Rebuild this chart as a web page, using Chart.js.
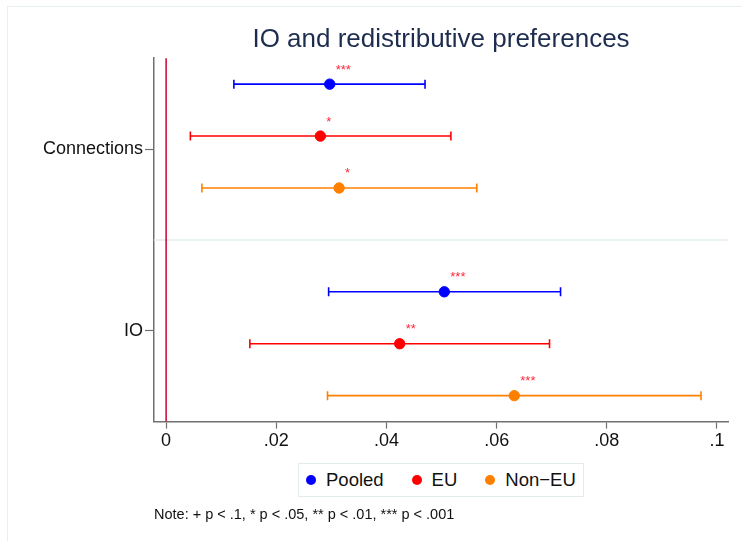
<!DOCTYPE html>
<html>
<head>
<meta charset="utf-8">
<title>IO and redistributive preferences</title>
<script src="https://cdn.jsdelivr.net/npm/chart.js@4.4.0/dist/chart.umd.min.js"></script>
<style>
    html, body { margin: 0; padding: 0; background: #fff; }
    #frame {
        position: absolute; left: 7px; top: 6px; width: 760px; height: 560px;
        border-top: 1px solid #e8eff0; border-left: 1px solid #e8eff0;
    }
    #wrap { position: absolute; left: 0; top: 0; width: 742px; height: 541px; }
    #legend {
        position: absolute; top: 463px; height: 34px; box-sizing: border-box;
        display: flex; align-items: center; padding: 0 7px;
        border: 1px solid #e3ecec; background: #fff;
        font-family: 'Liberation Sans', Arial, sans-serif; font-size: 18.5px; color: #111;
    }
    #legend .item { display: flex; align-items: center; margin-right: 28px; }
    #legend .item:last-child { margin-right: 0; }
    #legend .dot { width: 10px; height: 10px; border-radius: 50%; margin-right: 10px; }
</style>
</head>
<body>
<div id="frame"></div>
<div id="wrap"><canvas id="coefChart"></canvas></div>
<div id="legend"></div>
<script>
// Groups on the y axis (top to bottom) and the three samples
const groups = ['Connections', 'IO'];
const seriesNames = ['Pooled', 'EU', 'Non\u2212EU'];
const seriesColors = ['#0000ff', '#ff0000', '#ff8000'];

// Coefficients and 95% CI bounds, one entry per group
const pooledCoef = [0.0297, 0.0505];
const pooledLow  = [0.0123, 0.0295];
const pooledHigh = [0.0470, 0.0716];
const pooledStars = ['***', '***'];

const euCoef = [0.0280, 0.0424];
const euLow  = [0.0044, 0.0152];
const euHigh = [0.0517, 0.0696];
const euStars = ['*', '**'];

const nonEuCoef = [0.0314, 0.0632];
const nonEuLow  = [0.0065, 0.0293];
const nonEuHigh = [0.0564, 0.0971];
const nonEuStars = ['*', '***'];

// Axis ticks
const xTicks = [0, 0.02, 0.04, 0.06, 0.08, 0.1];
const yTickLabels = groups;

const FONT = "'Liberation Sans', Arial, sans-serif";

// Each group takes 3 rows plus a gap row; series i sits on row i of its group
function buildSeries(si, coef, low, high, stars) {
    return {
        label: seriesNames[si],
        data: coef.map((c, gi) => ({
            x: c, y: gi * 4 + si + 0.5, lo: low[gi], hi: high[gi], star: stars[gi]
        })),
        backgroundColor: seriesColors[si],
        borderColor: seriesColors[si],
        pointRadius: 5.2,
        pointHoverRadius: 5.2,
        pointStyle: 'circle'
    };
}

// Zero line, group separator, CI whiskers and significance stars
const coefPlot = {
    id: 'coefPlot',
    beforeDatasetsDraw(chart) {
        const { ctx, chartArea: a, scales: { x, y } } = chart;
        ctx.save();

        const ySep = y.getPixelForValue(3.5);
        ctx.strokeStyle = '#e3ecec';
        ctx.lineWidth = 1.5;
        ctx.beginPath();
        ctx.moveTo(a.left, ySep);
        ctx.lineTo(a.right, ySep);
        ctx.stroke();

        const x0 = x.getPixelForValue(0);
        ctx.strokeStyle = '#d0103a';
        ctx.lineWidth = 1.6;
        ctx.beginPath();
        ctx.moveTo(x0, a.top);
        ctx.lineTo(x0, a.bottom);
        ctx.stroke();

        chart.data.datasets.forEach(ds => {
            ctx.strokeStyle = ds.borderColor;
            ctx.lineWidth = 1.6;
            ds.data.forEach(p => {
                const py = y.getPixelForValue(p.y);
                const l = x.getPixelForValue(p.lo);
                const r = x.getPixelForValue(p.hi);
                ctx.beginPath();
                ctx.moveTo(l, py); ctx.lineTo(r, py);
                ctx.moveTo(l, py - 4.5); ctx.lineTo(l, py + 4.5);
                ctx.moveTo(r, py - 4.5); ctx.lineTo(r, py + 4.5);
                ctx.stroke();
            });
        });
        ctx.restore();
    },
    afterDatasetsDraw(chart) {
        const { ctx, scales: { x, y } } = chart;
        ctx.save();
        ctx.fillStyle = '#ff2a3a';
        ctx.font = '13px ' + FONT;
        ctx.textAlign = 'left';
        ctx.textBaseline = 'alphabetic';
        chart.data.datasets.forEach(ds => {
            ds.data.forEach(p => {
                ctx.fillText(p.star, x.getPixelForValue(p.x) + 6, y.getPixelForValue(p.y) - 10.5);
            });
        });
        ctx.restore();
    }
};

const chart = new Chart(document.getElementById('coefChart'), {
    type: 'scatter',
    data: {
        datasets: [
            buildSeries(0, pooledCoef, pooledLow, pooledHigh, pooledStars),
            buildSeries(1, euCoef, euLow, euHigh, euStars),
            buildSeries(2, nonEuCoef, nonEuLow, nonEuHigh, nonEuStars)
        ]
    },
    options: {
        responsive: true,
        maintainAspectRatio: false,
        animation: false,
        layout: { padding: { left: 0, right: 14, top: 0, bottom: 0 } },
        scales: {
            x: {
                type: 'linear',
                min: -0.0022,
                max: 0.102,
                afterBuildTicks: s => { s.ticks = xTicks.map(v => ({ value: v })); },
                afterFit: s => { s.height = 34; },
                ticks: {
                    callback: v => (v === 0 ? '0' : String(v).replace(/^0/, '')),
                    font: { family: FONT, size: 18 },
                    color: '#111',
                    padding: 2,
                    maxRotation: 0
                },
                grid: { drawOnChartArea: false, drawTicks: true, tickLength: 7, color: '#707070', tickWidth: 1.2 },
                border: { color: '#707070', width: 1.5 }
            },
            y: {
                type: 'linear',
                reverse: true,
                min: 0,
                max: 7,
                afterBuildTicks: s => { s.ticks = [{ value: 1.75 }, { value: 5.25 }]; },
                afterFit: s => { s.width = 154; },
                ticks: {
                    callback: (v, i) => yTickLabels[i],
                    font: { family: FONT, size: 18 },
                    color: '#111',
                    padding: 2
                },
                grid: { drawOnChartArea: false, drawTicks: true, tickLength: 9, color: '#707070', tickWidth: 1.2 },
                border: { color: '#707070', width: 1.5 }
            }
        },
        plugins: {
            title: {
                display: true,
                text: 'IO and redistributive preferences',
                fullSize: false,
                color: '#1e2d4f',
                font: { family: FONT, size: 26, weight: 'normal' },
                padding: { top: 24, bottom: 3 }
            },
            legend: { display: false },
            subtitle: {
                display: true,
                position: 'bottom',
                align: 'start',
                fullSize: false,
                text: 'Note: + p < .1, * p < .05, ** p < .01, *** p < .001',
                color: '#111',
                font: { family: FONT, size: 14.5 },
                padding: { top: 51, bottom: 17 }
            },
            tooltip: { enabled: false }
        }
    },
    plugins: [coefPlot]
});

// Legend box below the x axis, centred on the plot area
const legendEl = document.getElementById('legend');
chart.data.datasets.forEach(ds => {
    const item = document.createElement('div');
    item.className = 'item';
    const dot = document.createElement('span');
    dot.className = 'dot';
    dot.style.background = ds.backgroundColor;
    item.appendChild(dot);
    item.appendChild(document.createTextNode(ds.label));
    legendEl.appendChild(item);
});
const area = chart.chartArea;
legendEl.style.left = ((area.left + area.right) / 2 - legendEl.offsetWidth / 2) + 'px';
</script>
</body>
</html>
